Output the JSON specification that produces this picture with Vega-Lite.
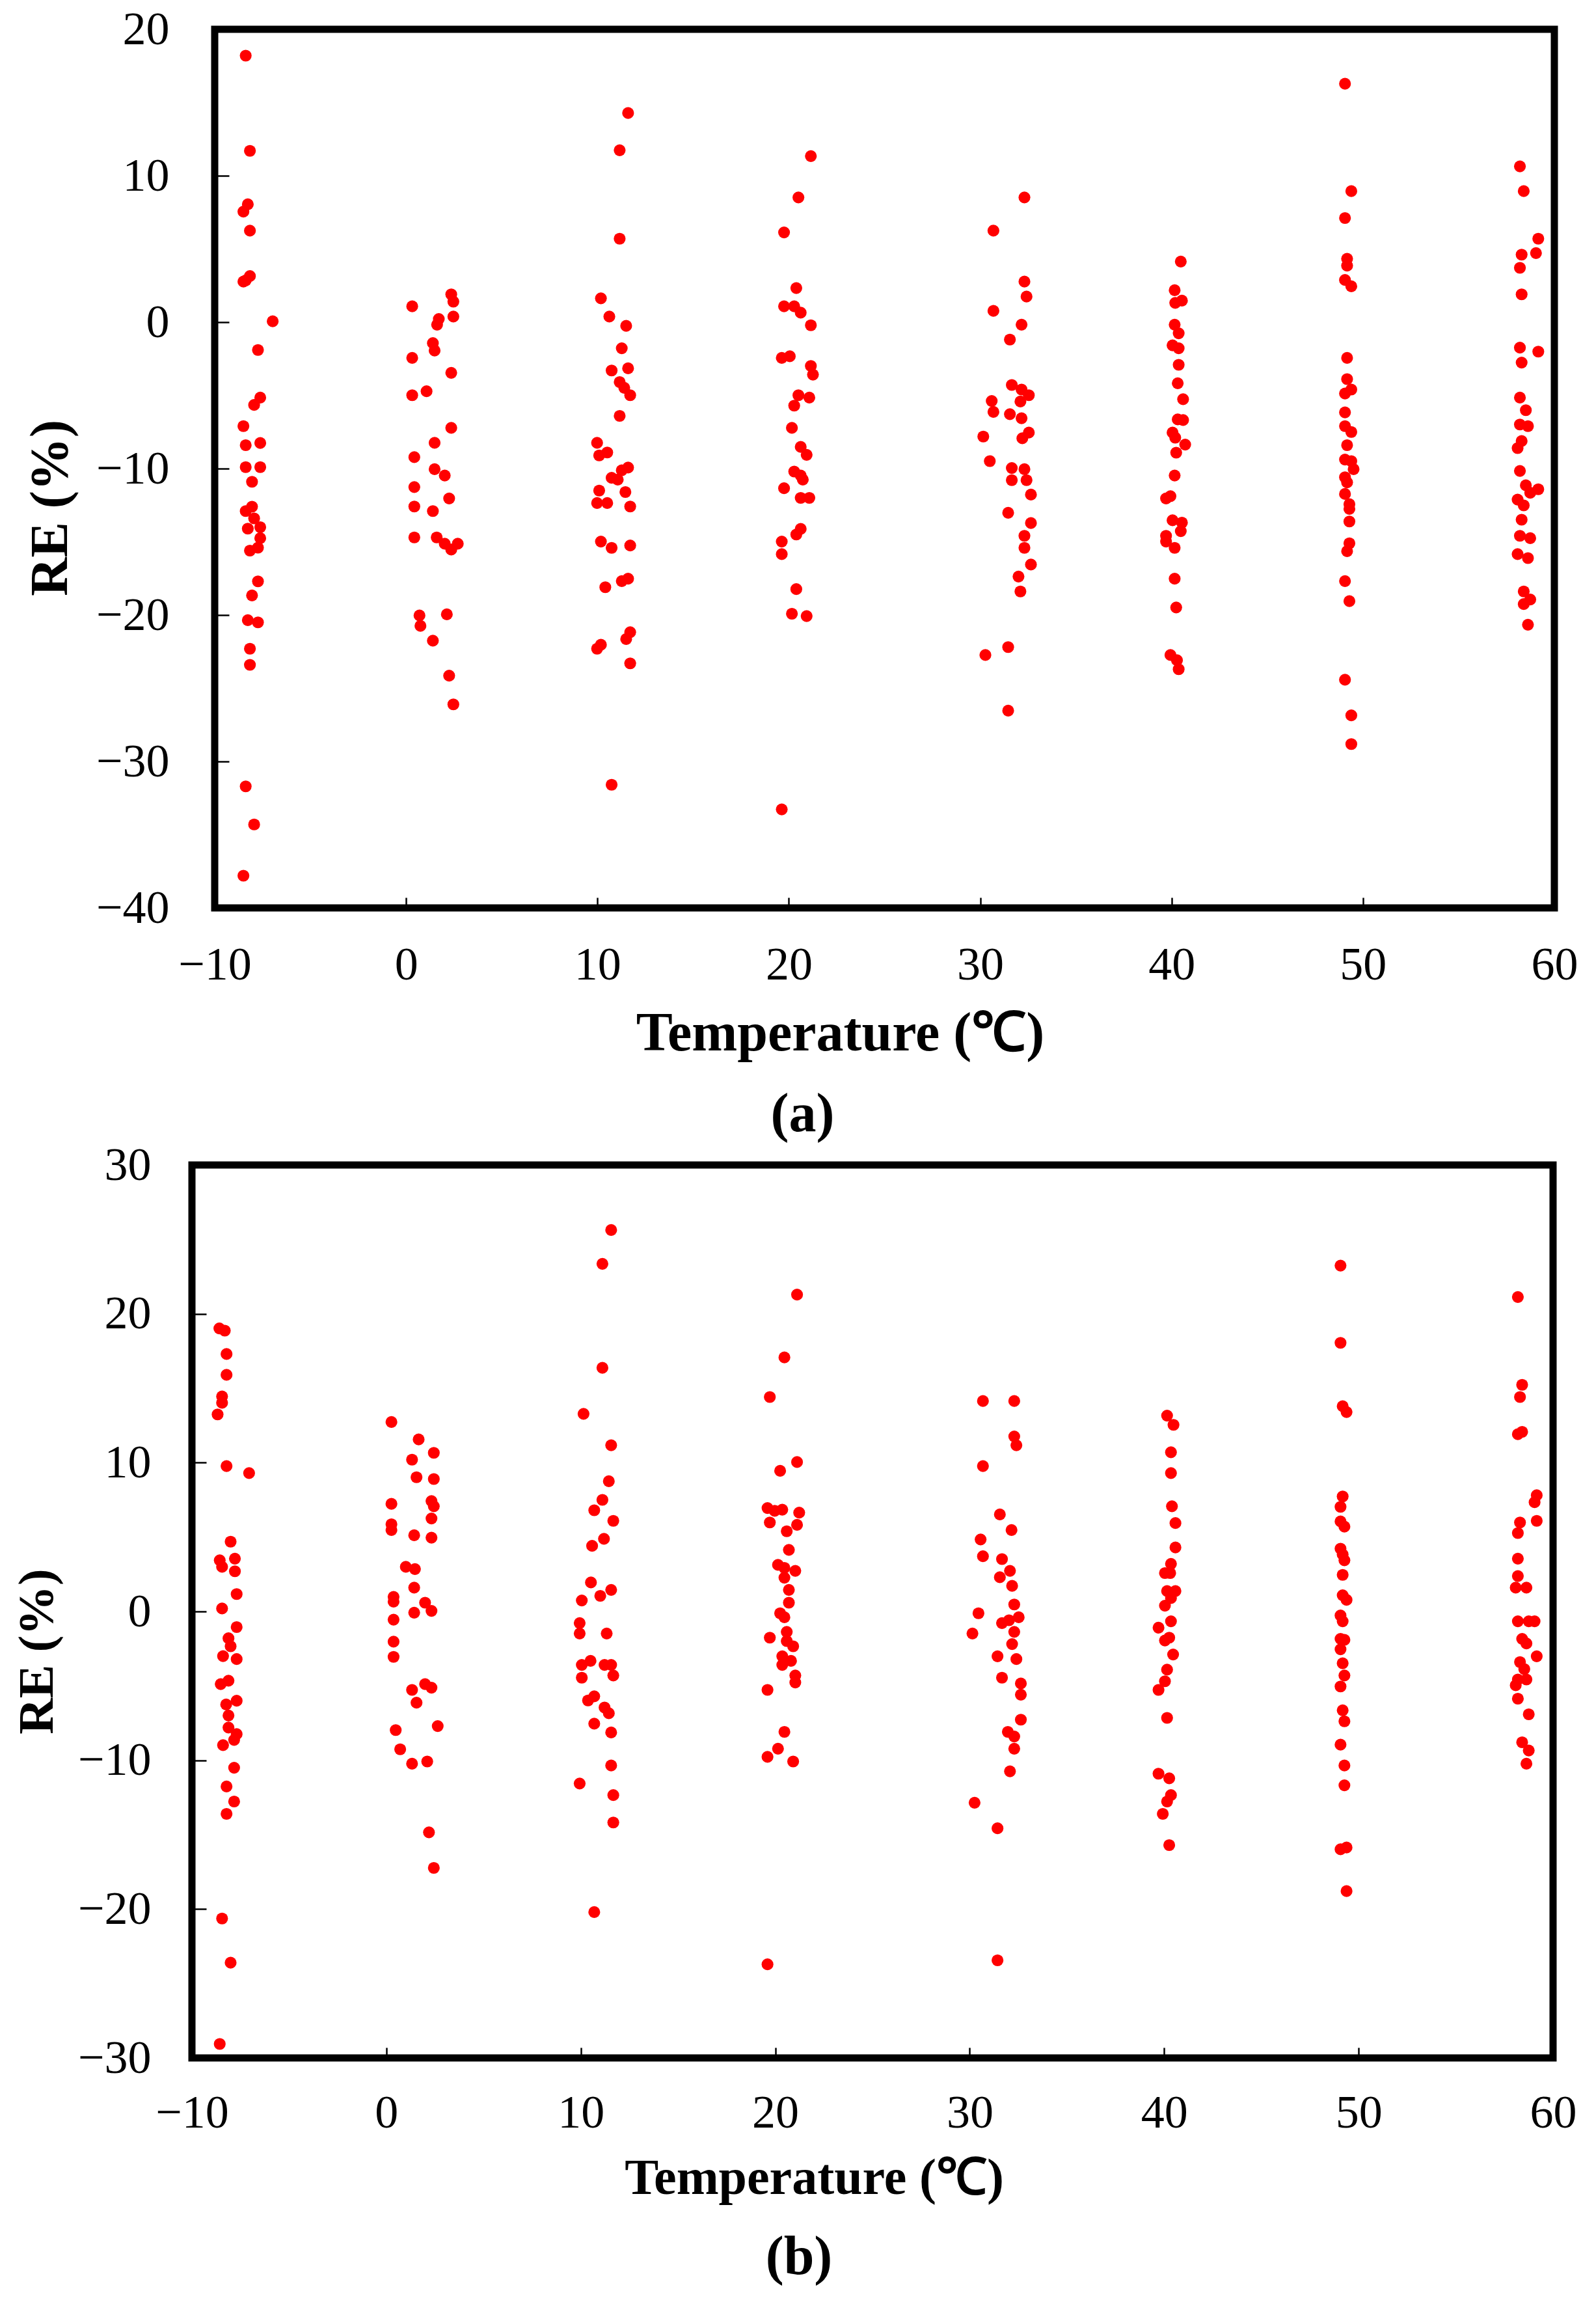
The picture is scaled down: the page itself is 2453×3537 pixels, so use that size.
{
  "$schema": "https://vega.github.io/schema/vega-lite/v6.json",
  "background": "white",
  "padding": {"left": 10, "top": 3, "right": 20, "bottom": 10},
  "config": {
    "view": {"stroke": "black", "strokeWidth": 11},
    "font": "Liberation Serif",
    "axis": {"domain": false, "grid": false, "tickColor": "black", "tickWidth": 2.5, "labelColor": "black", "labelFontSize": 72, "labelFont": "Liberation Serif", "labelFlush": false, "labelOverlap": false, "labelBound": false, "titleColor": "black", "titleFont": "Liberation Serif", "titleFontWeight": "bold"}
  },
  "spacing": -13,
  "vconcat": [
    {"spacing": 0, "hconcat": [
    {"width": 20, "height": 1, "data": {"values": []}, "mark": {"type": "point", "opacity": 0}, "encoding": {}, "view": {"stroke": null}},
    {
      "width": 2059, "height": 1350,
      "data": {"name": "a"},
      "title": {"text": "(a)", "orient": "bottom", "anchor": "middle", "frame": "group", "dx": -126, "offset": 42, "fontSize": 84, "fontWeight": "bold", "font": "Liberation Serif", "color": "black"},
      "mark": {"type": "circle", "size": 330, "color": "#ff0000", "opacity": 1},
      "encoding": {
        "x": {"field": "t", "type": "quantitative", "scale": {"domain": [-10, 60], "nice": false, "zero": false},
          "axis": {"values": [-10, 0, 10, 20, 30, 40, 50, 60], "title": "Temperature (℃)", "titleFontSize": 84, "titleX": 961, "titleY": 218, "titleBaseline": "alphabetic", "titleAlign": "center", "tickSize": -16, "labelPadding": 68}},
        "y": {"field": "re", "type": "quantitative", "scale": {"domain": [-40, 20], "nice": false, "zero": false},
          "axis": {"values": [-40, -30, -20, -10, 0, 10, 20], "title": "RE (%)", "titleFontSize": 82, "titleX": -253, "titleY": 735, "titleBaseline": "middle", "titleAlign": "center", "titleAngle": -90, "tickSize": -22, "labelPadding": 92}}
      }
    }]},
    {"spacing": 0, "hconcat": [
    {"width": 1.5, "height": 1, "data": {"values": []}, "mark": {"type": "point", "opacity": 0}, "encoding": {}, "view": {"stroke": null}},
    {
      "width": 2092, "height": 1372,
      "data": {"name": "b"},
      "title": {"text": "(b)", "orient": "bottom", "anchor": "middle", "frame": "group", "dx": -113, "offset": 42, "fontSize": 84, "fontWeight": "bold", "font": "Liberation Serif", "color": "black"},
      "mark": {"type": "circle", "size": 330, "color": "#ff0000", "opacity": 1},
      "encoding": {
        "x": {"field": "t", "type": "quantitative", "scale": {"domain": [-10, 60], "nice": false, "zero": false},
          "axis": {"values": [-10, 0, 10, 20, 30, 40, 50, 60], "title": "Temperature (℃)", "titleFontSize": 78, "titleX": 956, "titleY": 208, "titleBaseline": "alphabetic", "titleAlign": "center", "tickSize": -16, "labelPadding": 65}},
        "y": {"field": "re", "type": "quantitative", "scale": {"domain": [-30, 30], "nice": false, "zero": false},
          "axis": {"values": [-30, -20, -10, 0, 10, 20, 30], "title": "RE (%)", "titleFontSize": 77, "titleX": -238, "titleY": 747, "titleBaseline": "middle", "titleAlign": "center", "titleAngle": -90, "tickSize": -22, "labelPadding": 85}}
      }
    }]}
  ],
  "datasets": {
    "a": [
      {"t":-8.38,"re":18.2},{"t":-8.16,"re":11.7},{"t":-8.27,"re":8.05},{"t":-8.5,"re":7.55},{"t":-8.16,"re":6.25},{"t":-8.5,"re":2.77},{"t":-8.38,"re":2.85},{"t":-8.16,"re":3.15},{"t":-6.97,"re":0.06},{"t":-7.74,"re":-1.9},{"t":-7.62,"re":-5.15},{"t":-7.94,"re":-5.65},{"t":-8.5,"re":-7.1},{"t":-8.38,"re":-8.4},{"t":-7.62,"re":-8.25},{"t":-8.38,"re":-9.9},{"t":-7.62,"re":-9.9},{"t":-8.05,"re":-10.9},{"t":-8.38,"re":-12.9},{"t":-8.05,"re":-12.6},{"t":-8.27,"re":-14.1},{"t":-7.94,"re":-13.4},{"t":-7.62,"re":-14.0},{"t":-7.62,"re":-14.75},{"t":-8.16,"re":-15.6},{"t":-7.74,"re":-15.4},{"t":-7.74,"re":-17.7},{"t":-8.05,"re":-18.66},{"t":-8.27,"re":-20.35},{"t":-7.74,"re":-20.5},{"t":-8.16,"re":-22.3},{"t":-8.16,"re":-23.4},{"t":-8.38,"re":-31.7},{"t":-7.94,"re":-34.3},{"t":-8.5,"re":-37.8},
      {"t":0.32,"re":1.08},{"t":0.32,"re":-2.44},{"t":0.32,"re":-4.99},{"t":0.43,"re":-9.22},{"t":0.43,"re":-11.26},{"t":0.43,"re":-12.59},{"t":0.43,"re":-14.7},{"t":0.7,"re":-20.03},{"t":0.75,"re":-20.74},{"t":1.07,"re":-4.72},{"t":1.4,"re":-1.43},{"t":1.49,"re":-1.94},{"t":1.62,"re":-0.17},{"t":1.71,"re":0.22},{"t":1.49,"re":-8.24},{"t":1.49,"re":-10.04},{"t":1.4,"re":-12.9},{"t":1.6,"re":-14.7},{"t":1.4,"re":-21.75},{"t":2.36,"re":1.9},{"t":2.47,"re":1.4},{"t":2.47,"re":0.38},{"t":2.36,"re":-3.46},{"t":2.36,"re":-7.22},{"t":2.02,"re":-10.47},{"t":2.25,"re":-12.04},{"t":2.02,"re":-15.13},{"t":2.36,"re":-15.53},{"t":2.7,"re":-15.13},{"t":2.13,"re":-19.95},{"t":2.25,"re":-24.14},{"t":2.47,"re":-26.1},
      {"t":11.6,"re":14.28},{"t":11.16,"re":11.74},{"t":11.16,"re":5.7},{"t":10.18,"re":1.63},{"t":10.62,"re":0.38},{"t":11.5,"re":-0.25},{"t":11.27,"re":-1.78},{"t":10.74,"re":-3.3},{"t":11.6,"re":-3.15},{"t":11.16,"re":-4.09},{"t":11.4,"re":-4.48},{"t":11.71,"re":-4.99},{"t":11.16,"re":-6.4},{"t":9.98,"re":-8.24},{"t":10.09,"re":-9.1},{"t":10.51,"re":-8.9},{"t":10.74,"re":-10.63},{"t":11.06,"re":-10.75},{"t":11.27,"re":-10.12},{"t":11.6,"re":-9.93},{"t":10.09,"re":-11.5},{"t":9.98,"re":-12.35},{"t":10.51,"re":-12.35},{"t":11.46,"re":-11.6},{"t":11.71,"re":-12.59},{"t":10.18,"re":-14.98},{"t":10.74,"re":-15.41},{"t":11.71,"re":-15.25},{"t":10.41,"re":-18.1},{"t":11.27,"re":-17.68},{"t":11.6,"re":-17.52},{"t":9.98,"re":-22.3},{"t":10.18,"re":-22.03},{"t":11.71,"re":-21.17},{"t":11.5,"re":-21.64},{"t":11.71,"re":-23.3},{"t":10.74,"re":-31.59},
      {"t":21.15,"re":11.34},{"t":20.5,"re":8.52},{"t":19.75,"re":6.13},{"t":20.39,"re":2.33},{"t":19.75,"re":1.08},{"t":20.28,"re":1.08},{"t":20.62,"re":0.65},{"t":21.15,"re":-0.21},{"t":19.63,"re":-2.44},{"t":20.05,"re":-2.33},{"t":21.15,"re":-2.99},{"t":21.26,"re":-3.58},{"t":20.5,"re":-4.99},{"t":21.07,"re":-5.15},{"t":20.28,"re":-5.7},{"t":20.16,"re":-7.22},{"t":20.62,"re":-8.52},{"t":20.93,"re":-9.06},{"t":20.28,"re":-10.2},{"t":20.62,"re":-10.47},{"t":20.73,"re":-10.75},{"t":19.75,"re":-11.34},{"t":20.62,"re":-12.0},{"t":21.07,"re":-12.0},{"t":20.62,"re":-14.12},{"t":20.39,"re":-14.5},{"t":19.63,"re":-14.98},{"t":19.63,"re":-15.84},{"t":20.39,"re":-18.23},{"t":20.16,"re":-19.91},{"t":20.93,"re":-20.07},{"t":19.63,"re":-33.27},
      {"t":32.31,"re":8.52},{"t":30.69,"re":6.25},{"t":32.31,"re":2.77},{"t":32.42,"re":1.75},{"t":30.69,"re":0.77},{"t":32.16,"re":-0.17},{"t":31.55,"re":-1.19},{"t":31.65,"re":-4.29},{"t":32.16,"re":-4.6},{"t":32.54,"re":-4.99},{"t":30.6,"re":-5.38},{"t":32.1,"re":-5.42},{"t":30.69,"re":-6.13},{"t":31.55,"re":-6.28},{"t":32.16,"re":-6.56},{"t":30.16,"re":-7.81},{"t":32.54,"re":-7.54},{"t":32.2,"re":-7.93},{"t":30.5,"re":-9.49},{"t":31.65,"re":-9.96},{"t":32.31,"re":-10.04},{"t":31.65,"re":-10.79},{"t":32.42,"re":-10.79},{"t":32.65,"re":-11.77},{"t":31.46,"re":-13.02},{"t":32.65,"re":-13.72},{"t":32.31,"re":-14.59},{"t":32.31,"re":-15.41},{"t":32.65,"re":-16.55},{"t":32.0,"re":-17.37},{"t":32.1,"re":-18.39},{"t":30.27,"re":-22.73},{"t":31.46,"re":-22.19},{"t":31.46,"re":-26.53},
      {"t":40.48,"re":4.14},{"t":40.16,"re":2.18},{"t":40.54,"re":1.47},{"t":40.19,"re":1.32},{"t":40.16,"re":-0.17},{"t":40.37,"re":-0.76},{"t":40.05,"re":-1.58},{"t":40.37,"re":-1.78},{"t":40.37,"re":-2.91},{"t":40.32,"re":-4.17},{"t":40.6,"re":-5.26},{"t":40.32,"re":-6.64},{"t":40.6,"re":-6.68},{"t":40.05,"re":-7.54},{"t":40.19,"re":-7.89},{"t":40.71,"re":-8.36},{"t":40.24,"re":-8.91},{"t":40.16,"re":-10.47},{"t":39.71,"re":-12.04},{"t":39.94,"re":-11.88},{"t":40.05,"re":-13.53},{"t":40.54,"re":-13.69},{"t":40.48,"re":-14.27},{"t":39.71,"re":-14.59},{"t":39.71,"re":-14.98},{"t":40.16,"re":-15.41},{"t":40.16,"re":-17.52},{"t":40.24,"re":-19.48},{"t":39.94,"re":-22.73},{"t":40.28,"re":-23.08},{"t":40.37,"re":-23.7},
      {"t":49.06,"re":16.28},{"t":49.39,"re":8.95},{"t":49.06,"re":7.11},{"t":49.17,"re":4.33},{"t":49.17,"re":3.86},{"t":49.06,"re":2.88},{"t":49.39,"re":2.45},{"t":49.17,"re":-2.44},{"t":49.17,"re":-3.89},{"t":49.39,"re":-4.6},{"t":49.06,"re":-4.87},{"t":49.06,"re":-6.16},{"t":49.06,"re":-7.1},{"t":49.39,"re":-7.5},{"t":49.17,"re":-8.4},{"t":49.06,"re":-9.38},{"t":49.39,"re":-9.49},{"t":49.51,"re":-10.04},{"t":49.06,"re":-10.59},{"t":49.17,"re":-10.94},{"t":49.06,"re":-11.73},{"t":49.29,"re":-12.43},{"t":49.29,"re":-12.75},{"t":49.29,"re":-13.61},{"t":49.29,"re":-15.1},{"t":49.17,"re":-15.64},{"t":49.06,"re":-17.68},{"t":49.29,"re":-19.05},{"t":49.06,"re":-24.42},{"t":49.39,"re":-26.85},{"t":49.39,"re":-28.81},
      {"t":58.2,"re":10.64},{"t":58.4,"re":8.95},{"t":59.16,"re":5.7},{"t":59.04,"re":4.72},{"t":58.29,"re":4.61},{"t":58.2,"re":3.71},{"t":58.29,"re":1.9},{"t":58.2,"re":-1.74},{"t":59.16,"re":-2.01},{"t":58.29,"re":-2.76},{"t":58.2,"re":-5.15},{"t":58.51,"re":-6.01},{"t":58.2,"re":-6.99},{"t":58.62,"re":-7.1},{"t":58.29,"re":-8.12},{"t":58.08,"re":-8.6},{"t":58.2,"re":-10.16},{"t":58.51,"re":-11.14},{"t":59.16,"re":-11.41},{"t":58.74,"re":-11.65},{"t":58.08,"re":-12.12},{"t":58.4,"re":-12.51},{"t":58.29,"re":-13.49},{"t":58.2,"re":-14.59},{"t":58.74,"re":-14.75},{"t":58.08,"re":-15.84},{"t":58.62,"re":-16.11},{"t":58.4,"re":-18.39},{"t":58.74,"re":-18.94},{"t":58.4,"re":-19.25},{"t":58.62,"re":-20.66}
    ],
    "b": [
      {"t":-8.59,"re":19.02},{"t":-8.31,"re":18.87},{"t":-8.22,"re":17.3},{"t":-8.22,"re":15.9},{"t":-8.45,"re":14.45},{"t":-8.45,"re":14.02},{"t":-8.68,"re":13.24},{"t":-8.22,"re":9.77},{"t":-7.06,"re":9.3},{"t":-8.01,"re":4.69},{"t":-8.57,"re":3.44},{"t":-8.45,"re":3.0},{"t":-7.79,"re":3.55},{"t":-7.79,"re":2.7},{"t":-7.7,"re":1.17},{"t":-8.45,"re":0.2},{"t":-7.7,"re":-1.05},{"t":-8.12,"re":-1.8},{"t":-8.01,"re":-2.34},{"t":-8.4,"re":-3.0},{"t":-7.7,"re":-3.2},{"t":-8.52,"re":-4.88},{"t":-8.12,"re":-4.65},{"t":-7.7,"re":-6.0},{"t":-8.24,"re":-6.25},{"t":-8.12,"re":-6.99},{"t":-8.12,"re":-7.8},{"t":-7.7,"re":-8.24},{"t":-7.83,"re":-8.63},{"t":-8.4,"re":-8.98},{"t":-7.83,"re":-10.5},{"t":-8.22,"re":-11.76},{"t":-7.83,"re":-12.77},{"t":-8.22,"re":-13.6},{"t":-8.45,"re":-20.63},{"t":-8.01,"re":-23.6},{"t":-8.57,"re":-29.06},
      {"t":0.26,"re":12.73},{"t":1.66,"re":11.56},{"t":1.32,"re":10.2},{"t":2.44,"re":10.66},{"t":1.55,"re":9.02},{"t":2.44,"re":8.9},{"t":2.32,"re":7.42},{"t":2.44,"re":7.07},{"t":0.26,"re":7.23},{"t":0.26,"re":5.86},{"t":0.26,"re":5.47},{"t":2.32,"re":6.25},{"t":1.43,"re":5.12},{"t":2.32,"re":4.96},{"t":1.0,"re":3.0},{"t":1.47,"re":2.85},{"t":1.43,"re":1.6},{"t":0.37,"re":0.98},{"t":0.37,"re":0.66},{"t":1.99,"re":0.59},{"t":2.32,"re":0.04},{"t":1.43,"re":-0.08},{"t":0.37,"re":-0.55},{"t":0.37,"re":-2.03},{"t":0.37,"re":-3.05},{"t":1.32,"re":-5.27},{"t":1.99,"re":-4.88},{"t":2.32,"re":-5.12},{"t":1.55,"re":-6.13},{"t":2.64,"re":-7.7},{"t":0.48,"re":-7.97},{"t":0.71,"re":-9.26},{"t":1.32,"re":-10.23},{"t":2.1,"re":-10.08},{"t":2.19,"re":-14.84},{"t":2.44,"re":-17.23},
      {"t":11.56,"re":25.63},{"t":11.11,"re":23.36},{"t":11.11,"re":16.37},{"t":10.14,"re":13.28},{"t":11.56,"re":11.17},{"t":11.44,"re":8.75},{"t":11.11,"re":7.5},{"t":10.69,"re":6.8},{"t":11.67,"re":6.09},{"t":11.19,"re":4.88},{"t":10.58,"re":4.41},{"t":10.52,"re":1.95},{"t":10.05,"re":0.74},{"t":11.0,"re":1.05},{"t":11.56,"re":1.45},{"t":9.94,"re":-0.78},{"t":9.94,"re":-1.48},{"t":11.33,"re":-1.48},{"t":10.05,"re":-3.59},{"t":10.5,"re":-3.32},{"t":11.22,"re":-3.59},{"t":11.56,"re":-3.59},{"t":10.05,"re":-4.45},{"t":11.67,"re":-4.3},{"t":10.37,"re":-5.98},{"t":10.69,"re":-5.7},{"t":11.22,"re":-6.45},{"t":11.44,"re":-6.84},{"t":10.69,"re":-7.54},{"t":11.56,"re":-8.13},{"t":11.56,"re":-10.35},{"t":9.94,"re":-11.56},{"t":11.67,"re":-12.34},{"t":11.67,"re":-14.18},{"t":10.69,"re":-20.2},
      {"t":21.12,"re":21.29},{"t":20.47,"re":17.07},{"t":19.72,"re":14.41},{"t":21.12,"re":10.04},{"t":20.25,"re":9.45},{"t":19.6,"re":6.95},{"t":19.97,"re":6.76},{"t":20.36,"re":6.84},{"t":21.23,"re":6.64},{"t":19.72,"re":5.98},{"t":21.12,"re":5.82},{"t":20.59,"re":5.39},{"t":20.7,"re":4.14},{"t":20.14,"re":3.13},{"t":20.47,"re":2.93},{"t":21.03,"re":2.73},{"t":20.47,"re":2.27},{"t":20.7,"re":1.45},{"t":20.7,"re":0.59},{"t":20.25,"re":-0.12},{"t":20.47,"re":-0.39},{"t":19.72,"re":-1.76},{"t":20.59,"re":-1.37},{"t":20.59,"re":-1.99},{"t":20.92,"re":-2.34},{"t":20.36,"re":-3.01},{"t":20.36,"re":-3.59},{"t":20.81,"re":-3.32},{"t":21.03,"re":-4.3},{"t":21.03,"re":-4.77},{"t":19.6,"re":-5.27},{"t":20.47,"re":-8.09},{"t":20.14,"re":-9.22},{"t":19.6,"re":-9.77},{"t":20.92,"re":-10.08},{"t":19.6,"re":-23.71},
      {"t":30.68,"re":14.14},{"t":32.29,"re":14.14},{"t":32.29,"re":11.76},{"t":32.4,"re":11.17},{"t":30.68,"re":9.77},{"t":31.55,"re":6.52},{"t":32.15,"re":5.47},{"t":30.56,"re":4.84},{"t":30.68,"re":3.71},{"t":31.66,"re":3.52},{"t":32.07,"re":2.73},{"t":31.55,"re":2.3},{"t":32.18,"re":1.72},{"t":32.29,"re":0.47},{"t":30.45,"re":-0.12},{"t":32.52,"re":-0.39},{"t":31.66,"re":-0.78},{"t":32.02,"re":-0.59},{"t":30.14,"re":-1.48},{"t":32.29,"re":-1.37},{"t":32.18,"re":-2.19},{"t":31.43,"re":-3.01},{"t":32.4,"re":-3.2},{"t":31.66,"re":-4.45},{"t":32.63,"re":-4.84},{"t":32.63,"re":-5.59},{"t":32.63,"re":-7.27},{"t":31.96,"re":-8.09},{"t":32.29,"re":-8.4},{"t":32.29,"re":-9.22},{"t":32.07,"re":-10.74},{"t":30.25,"re":-12.85},{"t":31.43,"re":-14.57},{"t":31.43,"re":-23.44},
      {"t":40.15,"re":13.16},{"t":40.48,"re":12.54},{"t":40.35,"re":10.7},{"t":40.35,"re":9.3},{"t":40.4,"re":7.07},{"t":40.58,"re":5.94},{"t":40.58,"re":4.3},{"t":40.35,"re":3.2},{"t":40.04,"re":2.58},{"t":40.31,"re":2.58},{"t":40.15,"re":1.37},{"t":40.58,"re":1.37},{"t":40.35,"re":0.9},{"t":40.04,"re":0.39},{"t":40.35,"re":-0.66},{"t":39.71,"re":-1.09},{"t":40.04,"re":-1.95},{"t":40.26,"re":-1.76},{"t":40.46,"re":-2.89},{"t":40.15,"re":-3.91},{"t":40.04,"re":-4.69},{"t":39.71,"re":-5.27},{"t":40.15,"re":-7.15},{"t":39.71,"re":-10.9},{"t":40.26,"re":-11.21},{"t":40.35,"re":-12.34},{"t":40.15,"re":-12.77},{"t":39.93,"re":-13.6},{"t":40.26,"re":-15.7},
      {"t":49.07,"re":23.24},{"t":49.07,"re":18.05},{"t":49.18,"re":13.79},{"t":49.38,"re":13.4},{"t":49.18,"re":7.73},{"t":49.07,"re":7.03},{"t":49.07,"re":6.05},{"t":49.27,"re":5.7},{"t":49.07,"re":4.22},{"t":49.18,"re":3.83},{"t":49.27,"re":3.44},{"t":49.18,"re":2.46},{"t":49.18,"re":1.09},{"t":49.38,"re":0.78},{"t":49.07,"re":-0.27},{"t":49.18,"re":-0.66},{"t":49.07,"re":-1.84},{"t":49.27,"re":-1.91},{"t":49.07,"re":-2.54},{"t":49.18,"re":-3.48},{"t":49.27,"re":-4.3},{"t":49.07,"re":-5.04},{"t":49.18,"re":-6.64},{"t":49.27,"re":-7.38},{"t":49.07,"re":-8.95},{"t":49.27,"re":-10.35},{"t":49.27,"re":-11.68},{"t":49.07,"re":-15.98},{"t":49.38,"re":-15.86},{"t":49.38,"re":-18.79},
      {"t":58.19,"re":21.13},{"t":58.41,"re":15.23},{"t":58.3,"re":14.41},{"t":58.19,"re":11.91},{"t":58.41,"re":12.07},{"t":59.16,"re":7.81},{"t":59.05,"re":7.34},{"t":59.16,"re":6.09},{"t":58.3,"re":5.98},{"t":58.19,"re":5.27},{"t":58.19,"re":3.55},{"t":58.19,"re":2.38},{"t":58.08,"re":1.6},{"t":58.63,"re":1.6},{"t":58.19,"re":-0.66},{"t":58.75,"re":-0.66},{"t":59.05,"re":-0.66},{"t":58.41,"re":-1.84},{"t":58.63,"re":-2.15},{"t":59.16,"re":-3.01},{"t":58.3,"re":-3.4},{"t":58.52,"re":-3.87},{"t":58.63,"re":-4.57},{"t":58.19,"re":-4.57},{"t":58.08,"re":-4.96},{"t":58.19,"re":-5.86},{"t":58.75,"re":-6.91},{"t":58.41,"re":-8.79},{"t":58.75,"re":-9.34},{"t":58.63,"re":-10.23}
    ]
  }
}
